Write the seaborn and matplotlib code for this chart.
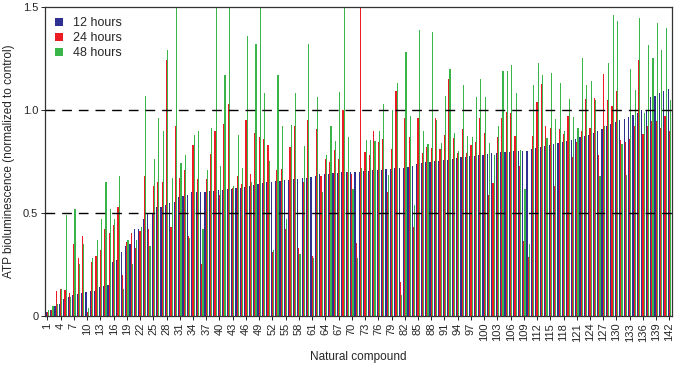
import numpy as np
import pandas as pd
import matplotlib
matplotlib.use("Agg")
import matplotlib.pyplot as plt
import seaborn as sns

compounds = [str(i) for i in range(1, 143)]
series_names = ["12 hours", "24 hours", "48 hours"]

hours_12 = [
    0.02, 0.03, 0.05, 0.06, 0.08, 0.09, 0.10, 0.105, 0.11, 0.115,
    0.12, 0.12, 0.14, 0.145, 0.15, 0.26, 0.27, 0.31, 0.34, 0.35,
    0.42, 0.42, 0.47, 0.50, 0.50, 0.53, 0.53, 0.54, 0.55, 0.555,
    0.575, 0.58, 0.585, 0.60, 0.60, 0.60, 0.60, 0.605, 0.605, 0.61,
    0.61, 0.615, 0.615, 0.62, 0.62, 0.625, 0.63, 0.635, 0.64, 0.645,
    0.65, 0.65, 0.655, 0.655, 0.66, 0.66, 0.665, 0.665, 0.67, 0.67,
    0.675, 0.68, 0.69, 0.69, 0.69, 0.695, 0.695, 0.70, 0.70, 0.70,
    0.70, 0.70, 0.705, 0.705, 0.71, 0.71, 0.71, 0.715, 0.715, 0.72,
    0.72, 0.72, 0.725, 0.73, 0.735, 0.74, 0.745, 0.745, 0.75, 0.75,
    0.755, 0.755, 0.76, 0.765, 0.77, 0.77, 0.775, 0.775, 0.78, 0.78,
    0.785, 0.79, 0.79, 0.795, 0.795, 0.795, 0.80, 0.80, 0.80, 0.80,
    0.81, 0.815, 0.82, 0.825, 0.83, 0.835, 0.84, 0.845, 0.85, 0.855,
    0.86, 0.87, 0.875, 0.88, 0.89, 0.90, 0.905, 0.92, 0.93, 0.94,
    0.95, 0.955, 0.965, 0.975, 0.985, 1.00, 1.00, 1.065, 1.07, 1.08,
    1.09, 1.10,
]
hours_24 = [
    0.02, 0.03, 0.12, 0.13, 0.125, 0.11, 0.35, 0.28, 0.39, 0.02,
    0.26, 0.29, 0.32, 0.42, 0.40, 0.44, 0.53, 0.20, 0.36, 0.40,
    0.33, 0.41, 0.68, 0.42, 0.63, 0.65, 0.65, 1.24, 0.43, 0.92,
    0.67, 0.71, 0.39, 0.83, 0.665, 0.25, 0.665, 0.785, 0.90, 0.585,
    0.93, 1.03, 0.62, 0.68, 0.64, 0.95, 0.69, 0.89, 0.87, 0.86,
    0.83, 0.31, 0.71, 0.715, 0.42, 0.82, 0.92, 0.33, 0.65, 0.95,
    0.29, 0.905, 0.68, 0.76, 0.745, 0.805, 0.76, 1.00, 0.70, 0.69,
    0.355, 1.60, 0.795, 0.78, 0.90, 0.845, 0.86, 0.60, 0.81, 1.09,
    0.165, 0.96, 0.87, 0.43, 0.96, 0.79, 0.82, 0.815, 0.96, 0.81,
    0.88, 1.15, 0.865, 0.79, 0.905, 0.79, 0.83, 0.845, 0.96, 0.89,
    0.585, 0.645, 0.87, 0.96, 0.99, 0.985, 0.875, 0.73, 0.365, 0.285,
    0.875, 1.04, 1.125, 0.92, 0.91, 0.63, 0.905, 0.885, 0.97, 0.77,
    0.845, 0.90, 1.055, 0.91, 1.06, 0.78, 1.175, 1.05, 1.02, 1.09,
    0.855, 0.845, 0.86, 0.92, 1.24, 0.885, 0.92, 0.945, 0.945, 0.91,
    0.97, 0.90,
]
hours_48 = [
    0.03, 0.05, 0.06, 0.13, 0.49, 0.09, 0.52, 0.25, 0.35, 0.04,
    0.28, 0.37, 0.47, 0.65, 0.52, 0.47, 0.68, 0.13, 0.37, 0.25,
    0.37, 0.43, 1.07, 0.34, 0.76, 0.96, 0.90, 1.29, 0.67, 1.60,
    0.74, 0.78, 0.38, 0.88, 0.90, 0.42, 0.71, 0.91, 1.60, 0.73,
    1.17, 1.60, 0.63, 0.88, 0.72, 1.36, 0.65, 1.32, 1.60, 1.08,
    0.75, 0.32, 1.17, 0.92, 0.47, 0.925, 1.08, 0.30, 0.825, 1.32,
    0.28, 1.065, 0.60, 0.78, 0.92, 0.85, 1.085, 1.60, 0.87, 0.615,
    0.28, 0.72, 0.855, 0.855, 0.85, 0.90, 1.03, 0.685, 1.00, 1.13,
    0.10, 1.28, 0.97, 0.54, 1.39, 0.90, 0.835, 1.38, 0.95, 0.84,
    1.07, 1.20, 0.89, 0.80, 1.12, 0.875, 0.87, 1.065, 1.15, 1.065,
    0.84, 0.78, 0.92, 1.19, 1.19, 1.22, 1.08, 0.805, 0.615, 0.35,
    1.12, 1.23, 1.17, 0.865, 1.18, 0.955, 1.13, 0.90, 1.055, 0.965,
    0.91, 1.25, 1.12, 1.14, 1.05, 0.68, 0.92, 1.23, 1.46, 1.43,
    0.835, 0.685, 1.20, 1.095, 1.445, 0.985, 1.315, 1.25, 1.42, 1.29,
    1.40, 1.05,
]

df = pd.DataFrame({
    "compound": compounds * 3,
    "series": np.repeat(series_names, len(compounds)),
    "value": hours_12 + hours_24 + hours_48,
})

sns.set_style("ticks")
plt.rcParams["font.family"] = ["Liberation Sans", "DejaVu Sans"]

fig, ax = plt.subplots(figsize=(6.75, 3.66), dpi=100)
fig.subplots_adjust(left=0.067, right=0.995, top=0.981, bottom=0.137)

palette = ["#2e3192", "#ed1c24", "#39b54a"]
sns.barplot(data=df, x="compound", y="value", hue="series",
            order=compounds, hue_order=series_names, palette=palette,
            width=0.8, saturation=1, errorbar=None, linewidth=0, ax=ax)

for yv in (0.5, 1.0):
    ax.axhline(yv, color="black", lw=1, ls=(0, (7, 5)), zorder=5)

ax.set_xlim(-0.5, len(compounds) - 0.5)
ax.set_ylim(0, 1.5)
ax.set_yticks([0, 0.5, 1.0, 1.5])
ax.set_yticklabels(["0", "0.5", "1.0", "1.5"], fontsize=8)
ax.set_xticks(range(0, len(compounds), 3))
ax.set_xticklabels(compounds[::3], rotation=90, fontsize=8)
ax.tick_params(length=3, width=0.7, pad=2)

for sp in ax.spines.values():
    sp.set_visible(True)
    sp.set_linewidth(0.9)
    sp.set_color("#333333")

ax.set_xlabel("Natural compound", fontsize=8.5, labelpad=7)
ax.set_ylabel("ATP bioluminescence (normalized to control)", fontsize=8.5, labelpad=6)

ax.legend(loc="upper left", frameon=False, fontsize=9, handlelength=0.6,
          handleheight=0.6, handletextpad=0.8, labelspacing=0.25,
          borderaxespad=0.4)

fig.savefig("out.png", dpi=100)
